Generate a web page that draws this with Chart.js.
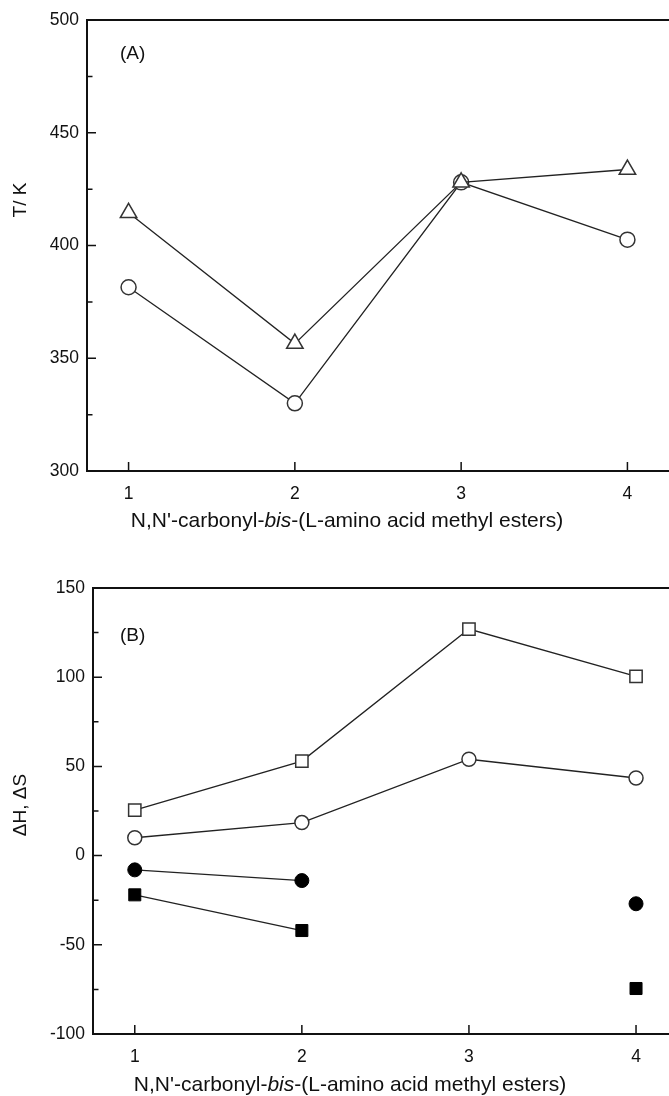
<!DOCTYPE html>
<html>
<head>
<meta charset="utf-8">
<script src="https://cdn.jsdelivr.net/npm/chart.js@4/dist/chart.umd.min.js"></script>
<style>
  html, body { margin: 0; padding: 0; background: #fff; }
  #wrap { position: relative; width: 669px; height: 1096px; overflow: hidden; }
  canvas { position: absolute; left: 0; }
</style>
</head>
<body>
<div id="wrap">
  <canvas id="chartA" width="680" height="548" style="top:0"></canvas>
  <canvas id="chartB" width="688" height="548" style="top:548px"></canvas>
</div>
<script>
// compounds on the x axis
const compounds = [1, 2, 3, 4];

// panel A: temperatures (K)
const tempTriangle = [414.5, 356.5, 428, 433.7];
const tempCircle = [381.5, 330, 428, 402.6];
const tempTicks = [300, 350, 400, 450, 500];

// panel B: enthalpy / entropy values
const openSquare = [25.5, 53, 127, 100.5];
const openCircle = [10, 18.5, 54, 43.5];
const filledCircle = [-8, -14, null, -27];
const filledSquare = [-22, -42, null, -74.5];
const dhdsTicks = [-100, -50, 0, 50, 100, 150];

const FONT = "'Liberation Sans', Arial, sans-serif";
const INK = "#111";

const toPoints = (vals) => compounds.map((x, i) => ({ x, y: vals[i] }));

// frame, inward ticks, panel letter and axis titles
const panelPlugin = {
  id: "panel",
  beforeDatasetsDraw(chart, args, opts) {
    const { ctx, chartArea: a } = chart;
    const xs = chart.scales.x;
    const ys = chart.scales.y;
    ctx.save();
    ctx.strokeStyle = INK;
    ctx.lineWidth = 2;
    ctx.beginPath();
    ctx.moveTo(a.left, a.top);
    ctx.lineTo(a.right + 2, a.top);
    ctx.moveTo(a.left, a.top - 1);
    ctx.lineTo(a.left, a.bottom);
    ctx.lineTo(a.right + 2, a.bottom);
    ctx.stroke();

    ctx.lineWidth = 1.5;
    ctx.beginPath();
    // y ticks, major every 50, minor every 25
    for (let v = ys.min; v <= ys.max; v += 25) {
      const py = ys.getPixelForValue(v);
      const len = v % 50 === 0 ? 9 : 5.5;
      ctx.moveTo(a.left, py);
      ctx.lineTo(a.left + len, py);
    }
    compounds.forEach((c) => {
      const px = xs.getPixelForValue(c);
      ctx.moveTo(px, a.bottom);
      ctx.lineTo(px, a.bottom - 9);
    });
    ctx.stroke();

    ctx.fillStyle = INK;
    ctx.textBaseline = "middle";
    ctx.textAlign = "left";
    ctx.font = "19px " + FONT;
    ctx.fillText(opts.label, opts.labelX, opts.labelY);

    // y title
    ctx.save();
    ctx.translate(opts.yTitleX, opts.yTitleY);
    ctx.rotate(-Math.PI / 2);
    ctx.textAlign = "center";
    ctx.font = "19px " + FONT;
    ctx.fillText(opts.yTitle, 0, 0);
    ctx.restore();

    // x title with italic "bis"
    const parts = [
      ["N,N'-carbonyl-", "normal"],
      ["bis", "italic"],
      ["-(L-amino acid methyl esters)", "normal"],
    ];
    let total = 0;
    parts.forEach(([t, s]) => {
      ctx.font = s + " 21px " + FONT;
      total += ctx.measureText(t).width;
    });
    let x = opts.xTitleX - total / 2;
    parts.forEach(([t, s]) => {
      ctx.font = s + " 21px " + FONT;
      ctx.fillText(t, x, opts.xTitleY);
      x += ctx.measureText(t).width;
    });
    ctx.restore();
  },
};

const openMarker = (label, vals, style, r) => ({
  label,
  data: toPoints(vals),
  showLine: true,
  borderColor: "#222",
  borderWidth: 1.3,
  pointStyle: style,
  pointRadius: r,
  pointBackgroundColor: "#fff",
  pointBorderColor: "#333",
  pointBorderWidth: 1.5,
});

const filledMarker = (label, vals, style, r) => ({
  label,
  data: toPoints(vals),
  showLine: true,
  spanGaps: false,
  borderColor: "#222",
  borderWidth: 1.3,
  pointStyle: style,
  pointRadius: r,
  pointBackgroundColor: "#000",
  pointBorderColor: "#000",
  pointBorderWidth: 1,
});

const makeOptions = (yMin, yMax, yTickVals, yWidth, xHeight, pad, panel) => ({
  responsive: false,
  animation: false,
  layout: { padding: pad },
  plugins: { legend: { display: false }, tooltip: { enabled: false }, panel },
  scales: {
    x: {
      type: "linear",
      min: 0.75,
      max: 4.25,
      afterBuildTicks: (s) => { s.ticks = compounds.map((v) => ({ value: v })); },
      afterFit: (s) => { s.height = xHeight; },
      grid: { display: false, drawTicks: false },
      border: { display: false },
      ticks: { padding: 13, color: INK, font: { family: FONT, size: 17.5 } },
    },
    y: {
      min: yMin,
      max: yMax,
      afterBuildTicks: (s) => { s.ticks = yTickVals.map((v) => ({ value: v })); },
      afterFit: (s) => { s.width = yWidth; },
      grid: { display: false, drawTicks: false },
      border: { display: false },
      ticks: { padding: 8, color: INK, font: { family: FONT, size: 17.5 } },
    },
  },
});

new Chart(document.getElementById("chartA"), {
  type: "scatter",
  data: {
    datasets: [
      openMarker("triangle", tempTriangle, "triangle", 9.5),
      openMarker("circle", tempCircle, "circle", 7.5),
    ],
  },
  options: makeOptions(300, 500, tempTicks, 87, 77, { top: 20, right: 0 }, {
    label: "(A)", labelX: 120, labelY: 54,
    yTitle: "T/ K", yTitleX: 21, yTitleY: 200,
    xTitleX: 347, xTitleY: 521,
  }),
  plugins: [panelPlugin],
});

new Chart(document.getElementById("chartB"), {
  type: "scatter",
  data: {
    datasets: [
      openMarker("open square", openSquare, "rect", 8.7),
      openMarker("open circle", openCircle, "circle", 7),
      filledMarker("filled circle", filledCircle, "circle", 7),
      filledMarker("filled square", filledSquare, "rect", 8.5),
    ],
  },
  options: makeOptions(-100, 150, dhdsTicks, 93, 62, { top: 40, right: 0 }, {
    label: "(B)", labelX: 120, labelY: 88,
    yTitle: "\u0394H, \u0394S", yTitleX: 21, yTitleY: 257,
    xTitleX: 350, xTitleY: 537,
  }),
  plugins: [panelPlugin],
});
</script>
</body>
</html>
